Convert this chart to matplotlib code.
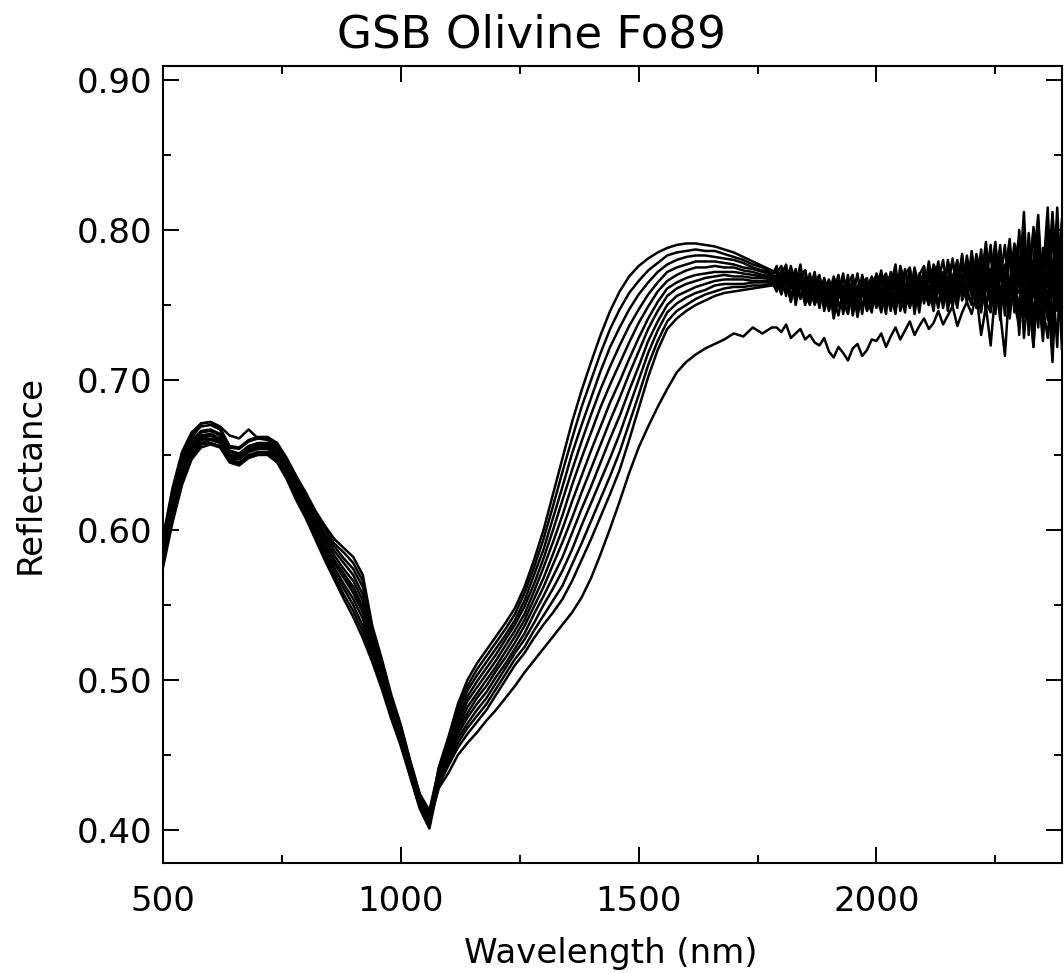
import numpy as np
import matplotlib
matplotlib.use("Agg")
import matplotlib.pyplot as plt
from matplotlib.ticker import MultipleLocator, FormatStrFormatter

# wavelength grid (nm): 20 nm steps up to 1780, 10 nm in the noisy tail
wavelength = list(range(500, 1061, 20)) + list(range(1080, 1781, 20)) + list(range(1790, 2401, 10))

# reflectance x 1000, one list per spectrum
s01 = [589,621,645,660,666,667,664,653,651,656,658,658,654,644,631,620,607,596,586,578,570,557,529,508,485,466,443,421,409,
       442,462,484,500,511,520,529,538,548,562,580,600,624,648,672,693,712,730,746,759,769,776,781,785,788,790,791,791,790,789,787,785,782,779,776,773,
       771,776,764,768,759,770,773,757,762,766,751,760,767,749,755,764,770,752,758,747,763,
       768,755,750,771,762,766,748,757,774,761,754,769,775,760,751,767,779,763,756,772,
       760,784,770,749,763,789,757,772,746,778,795,760,736,778,810,752,768,728,795,780,742]
s02 = [595,628,652,665,671,672,668,656,655,660,662,662,658,648,636,625,613,603,594,588,582,570,536,514,490,470,446,424,413,
       441,460,481,496,507,516,525,534,544,558,575,594,616,639,661,682,700,718,734,747,758,766,773,778,783,785,786,787,786,786,784,782,780,777,775,772,
       766,760,774,771,757,763,768,752,765,770,755,748,762,766,753,744,760,769,758,750,764,
       752,767,760,746,772,765,756,763,749,770,776,758,765,750,771,760,755,778,766,752,
       771,755,768,785,751,762,776,743,790,765,748,785,770,725,792,772,740,810,760,735,790]
s03 = [583,614,639,654,661,663,660,649,648,653,655,655,650,640,626,615,602,589,578,568,558,545,522,502,480,462,439,418,406,
       440,458,478,493,503,512,521,530,540,553,570,587,608,629,651,670,688,706,722,735,747,757,765,772,777,780,782,783,783,782,781,780,778,775,773,771,
       773,765,759,775,766,754,769,762,750,758,767,761,746,755,768,759,751,763,744,766,757,
       763,749,769,758,753,776,764,748,760,771,759,750,772,767,756,762,781,755,769,760,
       778,762,745,772,783,758,748,775,765,791,765,742,798,760,775,730,802,758,783,720,795]
s04 = [591,623,648,661,671,672,669,663,661,667,661,660,655,645,633,622,609,598,589,581,574,562,531,510,487,467,444,422,411,
       438,456,475,489,499,508,517,527,537,549,564,581,600,620,640,659,677,694,709,723,736,747,757,765,772,775,777,779,779,779,778,777,775,774,772,770,
       762,770,777,756,764,771,751,760,772,753,759,767,755,743,761,757,766,748,770,754,745,
       771,762,755,766,747,759,770,775,753,764,768,762,749,776,765,753,770,760,784,758,
       750,773,765,792,760,744,780,768,758,782,775,800,750,765,735,788,762,812,746,770,758]
s05 = [577,607,632,649,657,658,656,646,644,649,651,651,646,635,622,610,596,582,570,557,546,532,514,496,476,457,436,415,402,
       437,454,472,486,495,504,513,523,533,544,559,575,592,610,630,648,665,682,697,711,725,738,749,759,766,770,773,775,775,776,775,775,773,772,770,769,
       776,763,768,761,774,755,762,769,756,764,749,755,769,759,750,765,746,761,767,752,760,
       748,766,771,753,762,757,745,769,766,752,772,756,763,779,752,768,761,748,775,767,
       765,748,780,759,774,752,787,763,741,770,738,772,790,755,805,748,728,778,792,760,808]
s06 = [585,616,641,656,663,664,661,650,649,654,656,656,651,641,628,616,603,591,580,571,562,549,524,504,482,463,440,419,407,
       436,452,469,482,491,500,509,519,529,540,554,568,584,601,619,636,653,669,685,699,714,728,741,752,761,765,768,770,771,772,772,772,771,770,769,768,
       765,772,758,767,763,777,756,764,758,751,768,750,763,758,771,748,756,745,764,768,747,
       760,773,751,764,769,750,773,761,755,768,751,773,758,766,780,757,750,771,763,777,
       756,779,761,747,770,792,755,766,781,750,782,728,766,800,742,770,815,738,758,790,730]
s07 = [593,626,650,663,669,670,667,655,654,659,661,661,657,647,634,623,611,601,591,585,578,566,534,512,488,469,445,423,412,
       435,451,467,478,488,496,506,515,525,536,549,562,577,592,608,625,641,657,673,688,704,719,734,746,756,761,764,766,768,769,770,769,769,768,768,767,
       769,757,771,765,755,768,760,771,753,762,757,764,741,757,763,752,768,755,749,761,769,
       757,745,766,770,756,761,752,772,744,765,762,770,753,759,772,746,768,780,753,762,
       772,760,787,752,745,774,766,790,751,761,758,795,730,774,762,745,798,770,722,805,762]
s08 = [579,610,634,651,658,660,658,647,645,650,652,652,648,637,623,611,598,585,572,561,550,536,517,498,477,459,437,416,403,
       434,449,464,475,484,492,502,511,521,531,544,556,569,582,598,614,629,645,661,676,693,709,726,739,750,756,759,762,764,766,767,767,767,766,766,766,
       759,773,766,752,770,761,765,755,767,748,763,756,752,768,744,760,754,771,748,757,764,
       770,751,758,763,777,746,760,766,770,749,766,754,777,770,748,765,758,773,757,783,
       763,751,775,769,757,783,746,770,794,755,772,748,782,738,790,766,752,725,800,777,740]
s09 = [587,619,643,658,665,666,663,652,650,655,657,657,653,642,630,618,605,594,583,574,566,553,526,506,484,464,442,420,408,
       432,447,461,471,480,488,498,508,518,527,538,550,561,573,587,603,618,633,648,664,682,700,718,733,745,751,755,758,760,763,764,764,764,765,765,765,
       770,764,760,776,750,766,773,758,763,756,752,766,749,762,756,770,743,758,765,746,755,
       765,760,744,772,752,768,763,749,775,757,758,779,760,748,767,774,752,765,782,756,
       786,765,752,780,758,770,740,777,762,784,730,780,758,802,770,740,786,755,815,745,770]
s10 = [575,605,630,647,655,657,655,645,643,648,650,650,645,634,620,608,594,580,567,554,542,528,512,494,474,456,435,414,401,
       431,445,458,468,476,484,494,504,514,522,533,543,553,563,577,591,606,621,636,652,671,690,710,726,739,746,750,754,757,759,761,762,762,763,763,764,
       761,769,756,772,758,764,750,767,761,769,746,759,764,751,747,766,758,752,769,761,749,
       754,769,762,757,744,771,758,774,750,762,773,750,767,762,757,780,764,751,770,759,
       752,775,757,766,790,748,772,760,784,745,800,755,776,722,785,762,742,795,768,734,785]
s11 = [581,612,637,652,660,661,659,648,647,652,654,654,649,638,625,613,600,587,575,564,554,541,519,500,479,460,438,417,405,
       430,443,455,464,472,480,490,500,510,518,528,537,545,554,566,580,594,609,624,640,660,681,702,720,734,741,746,750,753,756,758,759,760,761,762,763,
       764,758,768,753,761,770,757,750,764,758,762,746,758,770,752,754,765,742,760,753,768,
       761,753,770,748,766,754,774,752,767,745,770,761,746,774,763,769,748,776,760,770,
       780,753,762,776,748,764,790,752,768,756,766,812,744,780,758,726,790,772,750,808,765]
s12 = [586,617,640,655,662,664,660,650,648,653,655,655,651,640,627,616,602,590,579,570,561,548,523,503,481,462,440,418,406,
       428,438,450,458,465,473,480,488,496,505,513,521,529,537,545,555,568,584,601,619,638,655,669,682,694,705,712,717,721,724,727,731,729,735,731,735,
       735,732,737,728,731,734,727,730,725,723,728,719,715,722,718,713,721,724,716,720,727,
       726,731,722,729,735,727,733,739,730,736,741,734,738,746,737,743,749,736,745,752,
       744,757,730,749,723,760,745,716,766,752,735,770,758,722,775,748,760,712,782,740,768]

spectra = [s01, s02, s03, s04, s05, s06, s07, s08, s09, s10, s11, s12]

fig = plt.figure(figsize=(10.64, 9.73), dpi=100)
ax = fig.add_axes([163 / 1064, 1 - 863 / 973, 899 / 1064, 797 / 973])

for s in spectra:
    ax.plot(wavelength, np.array(s) / 1000., color='k', lw=1.8)

ax.set_xlim(500, 2390)
ax.set_ylim(0.378, 0.9093)

ax.xaxis.set_major_locator(MultipleLocator(500))
ax.xaxis.set_minor_locator(MultipleLocator(250))
ax.yaxis.set_major_locator(MultipleLocator(0.1))
ax.yaxis.set_minor_locator(MultipleLocator(0.05))
ax.yaxis.set_major_formatter(FormatStrFormatter('%.2f'))

ax.tick_params(which='both', direction='in', top=True, right=True, width=1.4, color='k')
ax.tick_params(which='major', length=11.5)
ax.tick_params(which='minor', length=5.8)
ax.tick_params(axis='y', labelsize=24.5, pad=8, colors='k')
ax.tick_params(axis='x', labelsize=24.5, pad=16, colors='k')
for sp in ax.spines.values():
    sp.set_linewidth(1.5)

fig.text(531 / 1064, 1 - 47 / 973, 'GSB Olivine Fo89', fontsize=32.5, ha='center', va='baseline')
fig.text(611 / 1064, 1 - 963 / 973, 'Wavelength (nm)', fontsize=24.5, ha='center', va='baseline')
fig.text(30 / 1064, 1 - 475 / 973, 'Reflectance', fontsize=24.5, ha='center', va='center', rotation=90)

fig.savefig('out.png', dpi=100)
